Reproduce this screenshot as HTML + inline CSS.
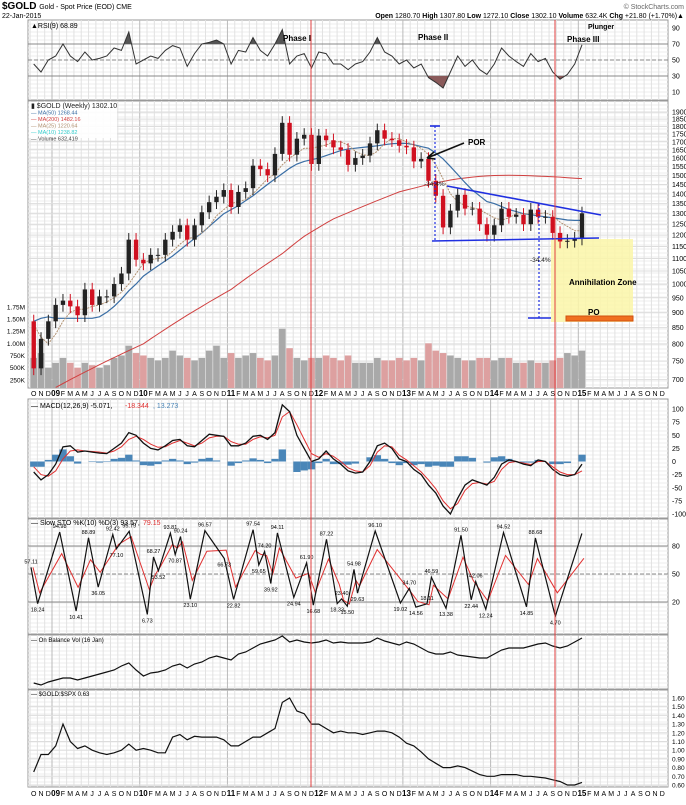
<!DOCTYPE html>
<html><head><meta charset="utf-8"><style>
html,body{margin:0;padding:0;background:#fff;}
body{width:686px;height:800px;overflow:hidden;font-family:"Liberation Sans",sans-serif;}
svg text{font-family:"Liberation Sans",sans-serif;}
</style></head><body>
<svg id="chart" width="686" height="800" xmlns="http://www.w3.org/2000/svg">
<text x="2" y="9" font-size="10" font-weight="bold">$GOLD <tspan font-size="7" font-weight="normal">Gold - Spot Price (EOD) CME</tspan></text>
<text x="2" y="18" font-size="7">22-Jan-2015</text>
<text x="684" y="9" font-size="7" fill="#666" text-anchor="end">© StockCharts.com</text>
<text x="684" y="18" font-size="7" text-anchor="end"><tspan font-weight="bold">Open</tspan> 1280.70 <tspan font-weight="bold">High</tspan> 1307.80 <tspan font-weight="bold">Low</tspan> 1272.10 <tspan font-weight="bold">Close</tspan> 1302.10 <tspan font-weight="bold">Volume</tspan> 632.4K <tspan font-weight="bold">Chg</tspan> +21.80 (+1.70%)▲</text>
</svg>
<script>
// ---- data (monthly, starting Oct 2008) ----
const months = ['O','N','D','J','F','M','A','M','J','J','A','S','O','N','D'];
const closes = [730,815,870, 925,940,920,890,980,925,955,955,1000,1040,1180,1095,
 1080,1115,1115,1180,1215,1245,1180,1245,1307,1357,1385,1420,
 1333,1410,1430,1555,1535,1500,1625,1825,1620,1720,1745,1565,
 1740,1710,1665,1650,1560,1600,1615,1690,1775,1720,1710,1675,
 1665,1580,1595,1470,1390,1235,1315,1395,1325,1325,1250,1202,
 1245,1325,1285,1295,1250,1320,1285,1285,1210,1172,1175,1185, 1302];
const volumes = [0.7,0.8,0.5, 0.6,0.7,0.6,0.5,0.6,0.55,0.5,0.55,0.7,0.75,0.95,0.8,
 0.75,0.7,0.65,0.7,0.85,0.75,0.7,0.65,0.7,0.85,0.95,0.7,
 0.8,0.7,0.75,0.8,0.7,0.65,0.75,1.3,0.9,0.7,0.65,0.7,
 0.7,0.75,0.7,0.65,0.75,0.6,0.6,0.6,0.7,0.65,0.65,0.7,
 0.65,0.7,0.65,1.0,0.85,0.8,0.75,0.7,0.65,0.65,0.7,0.7,
 0.65,0.7,0.7,0.6,0.6,0.65,0.6,0.6,0.65,0.7,0.8,0.75, 0.85];
const ma50 = [870,880,885, 880,880,880,880,880,880,885,900,920,945,975,1000,
 1030,1050,1070,1090,1110,1135,1160,1185,1210,1240,1270,1300,
 1320,1340,1365,1390,1420,1450,1480,1510,1540,1565,1580,1590,
 1600,1615,1630,1645,1655,1660,1665,1670,1675,1682,1688,1690,
 1690,1682,1670,1660,1630,1595,1550,1505,1460,1420,1390,1360,
 1350,1335,1320,1310,1300,1295,1290,1285,1280,1275,1270,1268, 1268];
const ma200 = [null,null,null, 680,690,700,710,720,730,740,750,760,770,780,790,
 800,815,830,845,860,875,890,905,920,935,950,965,
 980,1000,1020,1040,1060,1080,1100,1120,1145,1170,1195,1215,
 1235,1255,1275,1290,1305,1320,1335,1350,1365,1380,1395,1410,
 1420,1430,1440,1450,1458,1466,1474,1480,1485,1490,1494,1497,
 1499,1500,1501,1500,1499,1498,1496,1494,1492,1490,1487,1484, 1482];
const ma25 = [860,820,800, 830,870,900,910,910,920,925,935,950,970,1000,1040,
 1080,1095,1100,1105,1130,1160,1185,1190,1210,1240,1290,1320,
 1350,1360,1370,1400,1440,1480,1510,1560,1600,1630,1660,1660,
 1670,1680,1700,1700,1680,1640,1620,1615,1640,1690,1720,1720,
 1700,1680,1660,1620,1560,1480,1400,1360,1340,1330,1320,1300,
 1280,1270,1280,1300,1300,1300,1300,1305,1290,1260,1240,1220, 1220];
const rsi = [45,35,50, 55,70,55,48,60,50,52,55,65,62,85,45,
 50,55,52,62,68,65,42,58,70,72,75,70,
 45,62,60,78,62,55,70,88,45,55,58,40,
 60,58,45,45,38,45,48,60,78,60,55,45,
 50,40,45,28,22,15,35,55,42,50,38,32,
 45,65,55,48,42,58,48,52,35,26,32,45, 69];
const macd = [-20,-35,-25, -5,28,30,18,20,18,16,15,25,35,55,50,
 35,25,22,30,40,42,30,28,40,52,50,48,
 30,30,35,48,50,42,55,108,95,50,25,0,
 5,20,5,-5,-18,-22,-20,0,30,35,25,5,
 0,-15,-25,-45,-60,-85,-100,-70,-45,-35,-40,-45,
 -30,-5,3,0,-5,-8,3,0,-15,-25,-28,-25, -5];
const signal = [-10,-25,-28, -18,5,20,22,20,19,18,16,20,28,42,48,
 42,33,27,28,35,40,35,30,35,45,48,48,
 38,33,33,42,47,45,50,85,95,70,42,15,
 8,15,10,0,-12,-18,-20,-8,18,30,28,12,
 3,-8,-20,-35,-52,-75,-90,-80,-55,-42,-40,-43,
 -38,-15,-2,0,-3,-6,0,0,-10,-20,-25,-25, -18];
const obv = [5,3,6, 8,10,10,8,10,12,14,16,18,22,25,18,
 12,15,16,18,22,24,20,24,26,30,32,30,
 28,34,36,40,44,46,48,52,46,48,46,45,
 46,48,45,46,45,45,45,46,50,47,45,43,
 46,44,40,36,34,34,36,33,32,31,30,30,
 34,38,40,40,40,42,44,45,42,40,42,46, 50];
const ratio = [0.75,0.95,0.95, 1.05,1.3,1.1,1.02,1.05,1.0,0.97,0.95,0.97,1.0,1.07,1.0,
 1.02,1.0,0.97,0.97,1.15,1.18,1.12,1.16,1.15,1.15,1.15,1.12,
 1.05,1.05,1.1,1.15,1.15,1.2,1.25,1.55,1.6,1.45,1.42,1.3,
 1.3,1.25,1.2,1.22,1.2,1.2,1.18,1.2,1.22,1.22,1.2,1.15,
 1.08,1.05,0.98,0.9,0.85,0.8,0.8,0.82,0.8,0.76,0.72,0.7,
 0.7,0.72,0.72,0.72,0.7,0.7,0.69,0.68,0.66,0.64,0.6,0.6, 0.63];
const stoT = [-2.87,-1.97,1.05,3.30,4.99,6.32,8.32,8.81,10.56,13.04,13.88,14.56,16.2,16.85,17.58,18.92,20.92,23.56,24.84,27.51,28.29,29.08,29.93,30.83,33.08,34.83,35.75,37.55,39.01,39.62,40.4,41.31,41.79,44.21,47.66,48.88,49.78,51.3,51.9,53.9,55.95,57.35,57.96,59.34,61.76,64.91,66.13,68.85,72.49];
const stoK = [57.11,18.24,94.98,10.41,88.89,36.05,92.42,77.10,95.79,6.73,68.27,53.52,93.81,70.87,90.24,23.10,96.57,66.73,22.82,97.54,59.65,74.20,39.92,94.11,24.94,61.90,16.68,87.22,18.33,23.40,15.50,54.98,29.63,96.10,19.02,34.70,14.56,18.11,46.59,13.38,91.50,22.44,42.06,12.24,94.52,14.85,88.68,4.70,93.57];
const priceTicks = [1900,1850,1800,1750,1700,1650,1600,1550,1500,1450,1400,1350,1300,1250,1200,1150,1100,1050,1000,950,900,850,800,750,700];
const volTicks = [0.25,0.5,0.75,1.0,1.25,1.5,1.75];
const volTickLabels = ['250K','500K','750K','1.00M','1.25M','1.50M','1.75M'];
const rsiTicks = [90,70,50,30,10];
const macdTicks = [100,75,50,25,0,-25,-50,-75,-100];
const stoTicks = [80,50,20];
const ratioTicks = [1.6,1.5,1.4,1.3,1.2,1.1,1.0,0.9,0.8,0.7,0.6];

// ---- axes ----
const L=28, R=668;
const tx = t => 52 + t*7.31;
const ix = i => tx(i - 3 + 0.5);
const py = p => 112 + (Math.log(1900)-Math.log(p))*268;
const vy = v => 392 - v*48.7;
const ry = v => 60 - (v-50)*0.8;
const my = v => 461.5 - v*0.525;
const sy = v => 620.7 - v*0.933;
const oy = v => 688 - v;
const qy = v => 698 + (1.6 - v)*87;

const svg = document.getElementById('chart');
const NS='http://www.w3.org/2000/svg';
function mk(tag, attrs, parent){ const e=document.createElementNS(NS,tag); for(const k in attrs) e.setAttribute(k,attrs[k]); (parent||svg).appendChild(e); return e; }
function txt(x,y,s,attrs){ const e=mk('text',Object.assign({x:x,y:y,'font-size':7},attrs||{})); e.textContent=s; return e; }

const panels = [[20,100,'rsi-panel'],[101,388,'price-panel'],[399,518,'macd-panel'],[519,634,'stochastic-panel'],[635,689,'obv-panel'],[690,787,'ratio-panel']];
for (const [y0,y1,nm] of panels){
  const p = mk('rect',{x:L,y:y0,width:R-L,height:y1-y0,fill:'#fff',stroke:'#999','stroke-width':1});
  
  
  // faint horizontal grid
  for (let y=y0+4; y<y1; y+=4){
    const g = mk('line',{x1:L,x2:R,y1:y,y2:y,stroke:'#ececec','stroke-width':1});
    
    
  }
  // vertical month grid
  for (let m=-3; m<=83; m++){
    const x = tx(m);
    if (x<L || x>R) continue;
    const yr = ((m%12)+12)%12===0;
    const g = mk('line',{x1:x,x2:x,y1:y0,y2:y1,stroke:yr?'#bbb':'#e2e2e2','stroke-width':1});
    
    
  }
}
// time axis labels
for (const ay of [396, 796]){
  for (let m=-3; m<=83; m++){
    const x = tx(m)+3.6;
    const mi = ((m%12)+12)%12;
    const yrNum = Math.floor(m/12)+9;
    const s = mi===0 ? String(yrNum).padStart(2,'0') : 'JFMAMJJASOND'[mi];
    const t = txt(x, ay, s, {'text-anchor':'middle','font-size':mi===0?8:7,'font-weight':mi===0?'bold':'normal'});
    
    
  }
}
// ---- RSI ----
for (const v of rsiTicks){
  const t = txt(672, ry(v)+2.5, String(v));
  
  
}
for (const v of [70,30]){
  const l = mk('line',{x1:L,x2:R,y1:ry(v),y2:ry(v),stroke:'#888','stroke-width':1});
  
  
}
const mid = mk('line',{x1:L,x2:R,y1:ry(50),y2:ry(50),stroke:'#888','stroke-dasharray':'4,2'});


const defs = mk('defs',{});
const c1 = mk('clipPath',{id:'above70'},defs); mk('rect',{x:L,y:20,width:R-L,height:ry(70)-20},c1);
const c2 = mk('clipPath',{id:'below30'},defs); mk('rect',{x:L,y:ry(30),width:R-L,height:100-ry(30)},c2);
let rp = rsi.map((v,i)=>`${ix(i).toFixed(1)},${ry(v).toFixed(1)}`);
const fa = mk('polygon',{points:`${ix(0)},${ry(70)} `+rp.join(' ')+` ${ix(rsi.length-1)},${ry(70)}`,fill:'#555','clip-path':'url(#above70)'});


const fb = mk('polygon',{points:`${ix(0)},${ry(30)} `+rp.join(' ')+` ${ix(rsi.length-1)},${ry(30)}`,fill:'#8a5a5a','clip-path':'url(#below30)'});


const rl = mk('polyline',{points:rp.join(' '),fill:'none',stroke:'#333','stroke-width':1});


const rt = txt(31, 28, '▲RSI(9) 68.89');


for (const [x,y,s] of [[283,41,'Phase I'],[418,40,'Phase II'],[567,42,'Phase III'],[588,29,'Plunger']]){
  const t = txt(x,y,s,{'font-size':s==='Plunger'?7:8,'font-weight':'bold'});
  
  
}
// ---- price panel ----
for (const p of priceTicks){
  const t = txt(672, py(p)+2.5, String(p));
  
  
  const g = mk('line',{x1:L,x2:R,y1:py(p),y2:py(p),stroke:'#ddd'});
  
  
}
volTicks.forEach((v,i)=>{
  const t = txt(25, vy(v)+2.5, volTickLabels[i], {'text-anchor':'end','font-size':6.5});
  
  
});
// annihilation zone
const az = mk('rect',{x:551,y:239,width:82,height:83,fill:'#fbf6a8',opacity:0.85});


// volume bars
volumes.forEach((v,i)=>{
  const up = i===0 || closes[i]>=closes[i-1];
  const b = mk('rect',{x:ix(i)-3.3,y:vy(v),width:6.6,height:392-vy(v)-4,fill:up?'#a9a9a9':'#dda0a0'});
  
  
});
function line(arr, yf, attrs, name){
  const pts=[]; arr.forEach((v,i)=>{ if(v!==null) pts.push(`${ix(i).toFixed(1)},${yf(v).toFixed(1)}`); });
  const e = mk('polyline',Object.assign({points:pts.join(' '),fill:'none'},attrs));
  return e;
}
const l200 = line(ma200, py, {stroke:'#d04040','stroke-width':1});


const l50 = line(ma50, py, {stroke:'#3a6ea5','stroke-width':1.2});


const l25 = line(ma25, py, {stroke:'#b09070','stroke-width':1,'stroke-dasharray':'2,1'});


// candles
closes.forEach((c,i)=>{
  const o = i===0 ? 870 : closes[i-1];
  const up = c>=o;
  const hi = Math.max(o,c)*1.025, lo = Math.min(o,c)*0.975;
  const col = up ? '#222' : '#d01020';
  const w = mk('line',{x1:ix(i),x2:ix(i),y1:py(hi),y2:py(lo),stroke:col,'stroke-width':1});
  
  
  const y1=py(Math.max(o,c)), y2=py(Math.min(o,c));
  const b = mk('rect',{x:ix(i)-2.2,y:y1,width:4.4,height:Math.max(1,y2-y1),fill:col});
  
  
});
// triangle + annotations
for (const [x1,y1,x2,y2] of [[447,186,601,215],[432,241,599,238],[528,318,551,318],[430,126,440,126]]){
  const l = mk('line',{x1:x1,y1:y1,x2:x2,y2:y2,stroke:'#1f2fe0','stroke-width':1.6});
  
  
}
for (const [x,a,b] of [[435,126,241],[539,204,318]]){
  const l = mk('line',{x1:x,x2:x,y1:a,y2:b,stroke:'#1f2fe0','stroke-width':1.2,'stroke-dasharray':'2,2'});
  
  
}
for (const [x,y] of [[424,186],[530,262]]){
  const t = txt(x,y,'-34.4%',{'font-size':6.5,fill:'#222'});
  
  
}
const po = mk('rect',{x:566,y:316,width:67,height:5,fill:'#f07020',stroke:'#d05010'});


const pot = txt(588,315,'PO',{'font-size':8,'font-weight':'bold'});


const azt = txt(569,285,'Annihilation Zone',{'font-size':8,'font-weight':'bold'});


const port = txt(468,145,'POR',{'font-size':8,'font-weight':'bold'});


const arr = mk('path',{d:'M464,143 L427,158 M427,158 L434,152 M427,158 L435,159',stroke:'#111','stroke-width':1.6,fill:'none'});


// legend
const lg = mk('rect',{x:29,y:102,width:88,height:36,fill:'#fff',opacity:0.9});


const legs = [['$GOLD (Weekly) 1302.10','#222'],['MA(50) 1268.44','#3a6ea5'],['MA(200) 1482.16','#d04040'],['MA(25) 1220.64','#b09070'],['MA(10) 1238.82','#3cc'],['Volume 632,419','#444']];
legs.forEach(([s,c],i)=>{
  const t = txt(31, 108+i*6.5, (i===0?'▮ ':'— ')+s, {'font-size':i===0?7:5.5,fill:c});
  
  
});
// ---- MACD ----
for (const v of macdTicks){
  const t = txt(672, my(v)+2.5, String(v));
  
  
}
macd.forEach((v,i)=>{
  const h = v - signal[i];
  const b = mk('rect',{x:ix(i)-3.6,y:Math.min(my(h),my(0)),width:7.3,height:Math.abs(my(h)-my(0)),fill:'#4a86b8'});
  
  
});
const ms = line(signal, my, {stroke:'#e03030','stroke-width':1});


const ml = line(macd, my, {stroke:'#111','stroke-width':1.3});


const mt = txt(31,408,'— MACD(12,26,9) -5.071, ');


const mt2 = txt(125,408,'-18.344', {fill:'#e03030'});


const mt3 = txt(153,408,', 13.273', {fill:'#4a86b8'});


// ---- Stochastic ----
for (const v of stoTicks){
  const t = txt(672, sy(v)+2.5, String(v));
  
  
  const l = mk('line',{x1:L,x2:R,y1:sy(v),y2:sy(v),stroke:'#888','stroke-dasharray':v===50?'4,2':''});
  
  
}
const dPts = stoK.map((v,i)=>{ const a=stoK[Math.max(0,i-1)], b=v; return `${(tx(stoT[i])+2).toFixed(1)},${sy(0.3*a+0.7*b).toFixed(1)}`; });
const sd = mk('polyline',{points:dPts.join(' '),fill:'none',stroke:'#e03030','stroke-width':1});


const sk = mk('polyline',{points:stoK.map((v,i)=>`${tx(stoT[i]).toFixed(1)},${sy(v).toFixed(1)}`).join(' '),fill:'none',stroke:'#111','stroke-width':1.2});


stoK.forEach((v,i)=>{
  if (i===stoK.length-1) return;
  const peak = (i>0 && v>stoK[i-1]) || (i===0);
  const t = txt(tx(stoT[i]), peak ? sy(v)-4 : sy(v)+8, v.toFixed(2), {'font-size':5.5,'text-anchor':'middle'});
  
  
});
const st = txt(31,525,'— Slow STO %K(10) %D(3) 93.57, ');


const st2 = txt(143,525,'79.15',{fill:'#e03030'});


// ---- OBV ----
const ol = line(obv, oy, {stroke:'#111','stroke-width':1.2});


const ot = txt(31,642,'— On Balance Vol (16 Jan)',{'font-size':6});


// ---- Ratio ----
for (const v of ratioTicks){
  const t = txt(672, qy(v)+2.5, v.toFixed(2), {'font-size':6.5});
  
  
  const l = mk('line',{x1:L,x2:R,y1:qy(v),y2:qy(v),stroke:'#ddd'});
  
  
}
const ql = line(ratio, qy, {stroke:'#111','stroke-width':1.2});


const qt = txt(31,696,'— $GOLD:$SPX 0.63',{'font-size':6});


// red event lines
for (const x of [311,555]){
  const l = mk('line',{x1:x,x2:x,y1:20,y2:787,stroke:'#e04040','stroke-width':1});
  
  
}
</script>
</body></html>
